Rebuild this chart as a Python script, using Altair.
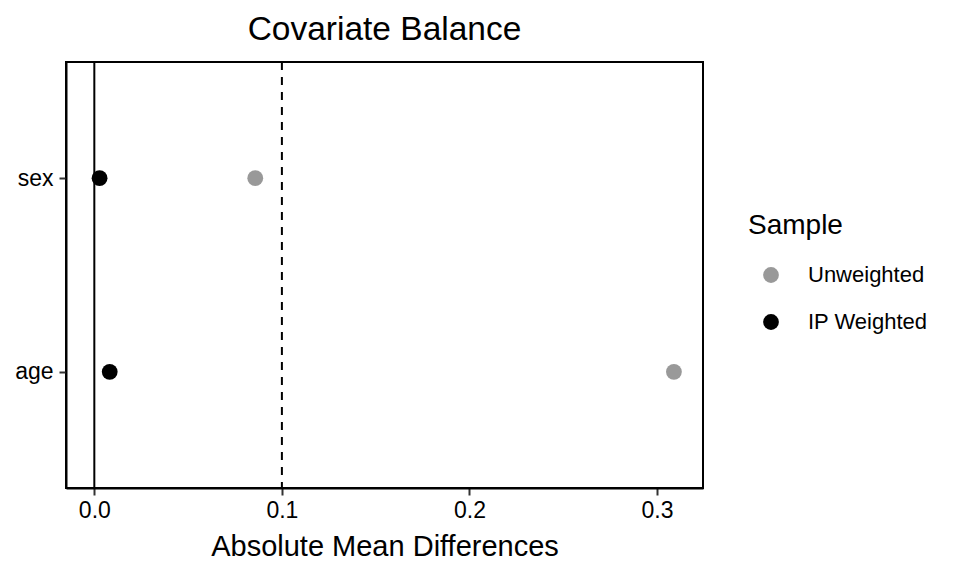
import altair as alt
import pandas as pd

covariates = ["sex", "age", "sex", "age"]
samples = ["Unweighted", "Unweighted", "IP Weighted", "IP Weighted"]
abs_mean_diff = [0.0858, 0.3090, 0.0028, 0.0082]

ref_values = [0.0, 0.1]
ref_dash = ["solid", "dashed"]

sample_order = ["Unweighted", "IP Weighted"]
sample_colors = ["#999999", "#000000"]
cov_order = ["sex", "age"]

df = pd.DataFrame({"covariate": covariates, "sample": samples, "diff": abs_mean_diff})
refs = pd.DataFrame({"x": ref_values, "dash": ref_dash})

FONT = "Liberation Sans"
xscale = alt.Scale(domain=[-0.0151, 0.3245], nice=False, zero=False)

solid = alt.Chart(refs[refs.dash == "solid"]).mark_rule(color="black", strokeWidth=2).encode(
    x=alt.X("x:Q", scale=xscale)
)
dashed = alt.Chart(refs[refs.dash == "dashed"]).mark_rule(
    color="black", strokeWidth=2, strokeDash=[8, 7]
).encode(x=alt.X("x:Q", scale=xscale))

points = alt.Chart(df).mark_circle(size=250, opacity=1).encode(
    x=alt.X(
        "diff:Q",
        scale=xscale,
        title="Absolute Mean Differences",
        axis=alt.Axis(values=[0.0, 0.1, 0.2, 0.3], format=".1f"),
    ),
    y=alt.Y(
        "covariate:N",
        sort=cov_order,
        scale=alt.Scale(type="point", padding=0.6),
        title=None,
    ),
    color=alt.Color(
        "sample:N",
        sort=sample_order,
        scale=alt.Scale(domain=sample_order, range=sample_colors),
        title="Sample",
        legend=alt.Legend(
            orient="none",
            legendX=682,
            legendY=150,
            symbolType="circle",
            symbolSize=250,
            symbolOffset=12,
            labelOffset=26,
            titleFontSize=28,
            labelFontSize=22,
            titleFontWeight="normal",
            titlePadding=24,
            rowPadding=25,
            padding=0,
            titleColor="black",
            labelColor="black",
        ),
    ),
)

chart = (
    alt.layer(solid, dashed, points)
    .properties(
        width=637,
        height=426,
        title=alt.TitleParams(
            "Covariate Balance",
            fontSize=33.5,
            font=FONT,
            fontWeight="normal",
            color="black",
            anchor="middle",
            offset=14,
        ),
        autosize=alt.AutoSizeParams(type="none"),
        padding={"left": 58, "top": 54, "right": 240, "bottom": 82},
    )
    .configure(font=FONT)
    .configure_view(stroke="black", strokeWidth=2)
    .configure_axis(
        grid=False,
        domainColor="black",
        domainWidth=2,
        tickColor="#333333",
        tickWidth=2,
        tickSize=7,
        labelFontSize=23,
        labelColor="black",
        labelFont=FONT,
        titleFont=FONT,
        titleFontSize=29,
        titleFontWeight="normal",
        titleColor="black",
    )
    .configure_axisX(labelPadding=4, titlePadding=10)
    .configure_axisY(labelPadding=6)
    .configure_legend(labelFont=FONT, titleFont=FONT)
)

chart.save("out.html", embed_options={"renderer": "svg", "actions": False})
